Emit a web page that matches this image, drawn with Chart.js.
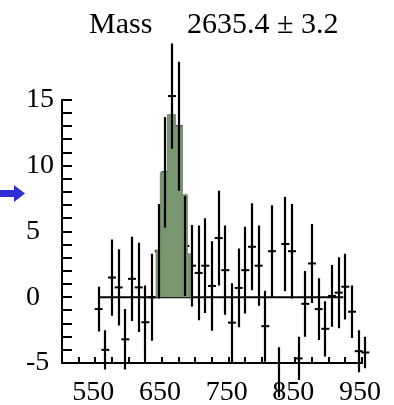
<!DOCTYPE html>
<html>
<head>
<meta charset="utf-8">
<script src="https://cdn.jsdelivr.net/npm/chart.js@4.4.1/dist/chart.umd.min.js"></script>
<style>
  html, body { margin: 0; padding: 0; background: #fff; }
  canvas { display: block; }
</style>
</head>
<body>
<canvas id="massChart" width="394" height="405"></canvas>
<script>
// histogram bins (MeV), background-subtracted counts and their errors
const binCenters = [555, 565, 575, 585, 595, 605, 615, 625, 635, 645,
  655, 665, 675, 685, 695, 705, 715, 725, 735, 745,
  755, 765, 775, 785, 795, 805, 815, 825, 835, 845,
  855, 865, 875, 885, 895, 905, 915, 925, 935, 945, 955];
const counts = [-0.9, -4.0, 1.5, 0.75, -3.2, 1.4, 0.75, -1.9, 0.0, 3.5,
  9.5, 15.3, 13.0, 3.9, 2.4, 1.85, 2.4, 0.86, 4.5, 2.06,
  -1.93, 0.71, 2.06, 3.84, 2.4, -2.2, 3.5, -5.7, 4.05, 3.5,
  -4.65, -0.5, 2.57, -0.9, -2.4, 0.1, 0.35, 0.8, -1.1, -4.1, -4.2];
const errors = [1.7, 1.5, 2.9, 2.9, 2.3, 3.2, 3.4, 2.8, 3.3, 3.6,
  4.2, 4.0, 4.9, 3.8, 3.1, 3.6, 3.6, 3.4, 3.6, 3.4,
  3.0, 3.0, 3.3, 3.3, 3.05, 2.7, 3.5, 1.9, 3.6, 3.6,
  1.65, 2.5, 3.0, 2.35, 2.1, 2.35, 2.7, 2.5, 2.0, 1.6, 1.2];
const binWidth = 10;

// flat background fit and the shaded signal
const fitX = [555, 922];
const fitY = [0, 0];
const signalEdges = [640, 647.5, 658, 670, 680.5, 688, 694];
const signalLevels = [3.6, 9.5, 13.9, 13.0, 7.8, 3.3, 3.3];

const xLabels = [550, 650, 750, 850, 950];
const yLabels = [-5, 0, 5, 10, 15];
const titleParts = ["Mass", "2635.4 \u00b1 3.2"];

const serif = "'Liberation Serif', 'Times New Roman', serif";

const errorBars = {
  id: "errorBars",
  afterDatasetsDraw(chart) {
    const { ctx, scales: { x, y } } = chart;
    ctx.save();
    ctx.strokeStyle = "#000";
    ctx.lineWidth = 2.2;
    ctx.beginPath();
    binCenters.forEach((c, i) => {
      const px = Math.round(x.getPixelForValue(c));
      ctx.moveTo(px, y.getPixelForValue(counts[i] + errors[i]));
      ctx.lineTo(px, y.getPixelForValue(counts[i] - errors[i]));
    });
    ctx.stroke();
    ctx.restore();
  },
};

const innerTicks = {
  id: "innerTicks",
  afterDraw(chart) {
    const { ctx, scales: { x, y } } = chart;
    ctx.save();
    ctx.strokeStyle = "#000";
    ctx.lineWidth = 2;
    ctx.beginPath();
    x.ticks.forEach((t) => {
      const px = Math.round(x.getPixelForValue(t.value));
      ctx.moveTo(px, y.bottom);
      ctx.lineTo(px, y.bottom - 6);
    });
    y.ticks.forEach((t) => {
      const py = Math.round(y.getPixelForValue(t.value));
      ctx.moveTo(x.left, py);
      ctx.lineTo(x.left + 10, py);
    });
    ctx.stroke();

    // x labels under their tick values
    ctx.fillStyle = "#000";
    ctx.font = "28px " + serif;
    ctx.textAlign = "center";
    ctx.textBaseline = "alphabetic";
    xLabels.forEach((v) => {
      ctx.fillText(String(v), x.getPixelForValue(v) - 2, 400);
    });
    ctx.restore();
  },
};

const decorations = {
  id: "decorations",
  afterDraw(chart) {
    const ctx = chart.ctx;
    ctx.save();
    ctx.fillStyle = "#000";
    ctx.font = "30px " + serif;
    ctx.textBaseline = "alphabetic";
    ctx.fillText(titleParts[0], 89, 33);
    ctx.fillText(titleParts[1], 187, 33);

    // blue arrow on the left margin
    ctx.fillStyle = "#2f2fd6";
    ctx.fillRect(0, 190, 15, 7);
    ctx.beginPath();
    ctx.moveTo(14, 185);
    ctx.lineTo(25, 193.5);
    ctx.lineTo(14, 202);
    ctx.closePath();
    ctx.fill();
    ctx.restore();
  },
};

new Chart(document.getElementById("massChart").getContext("2d"), {
  type: "line",
  data: {
    datasets: [
      {
        label: "signal",
        data: signalEdges.map((e, i) => ({ x: e, y: signalLevels[i] })),
        stepped: true,
        fill: "origin",
        backgroundColor: "rgb(122, 150, 112)",
        borderColor: "rgb(110, 140, 100)",
        borderWidth: 1,
        pointRadius: 0,
        clip: false,
      },
      {
        label: "fit",
        data: fitX.map((v, i) => ({ x: v, y: fitY[i] })),
        borderColor: "#000",
        borderWidth: 2,
        pointRadius: 0,
        fill: false,
        clip: false,
      },
      {
        type: "scatter",
        label: "data",
        data: binCenters.map((c, i) => ({ x: c, y: counts[i] })),
        pointStyle: "line",
        pointRadius: 4,
        pointBorderWidth: 2,
        borderColor: "#000",
        backgroundColor: "#000",
        showLine: false,
        clip: false,
      },
    ],
  },
  options: {
    responsive: false,
    animation: false,
    events: [],
    layout: { padding: { left: 26, right: 32, top: 100, bottom: 0 } },
    scales: {
      x: {
        type: "linear",
        min: 500,
        max: 950,
        afterFit: (scale) => { scale.height = 42; },
        grid: { display: false, drawTicks: false },
        border: { display: true, color: "#000", width: 2 },
        ticks: {
          stepSize: 25,
          autoSkip: false,
          maxRotation: 0,
          color: "#000",
          font: { family: serif, size: 28 },
          callback: () => "",
        },
      },
      y: {
        min: -5,
        max: 15,
        afterFit: (scale) => { scale.width = 36; },
        grid: { display: false, drawTicks: false },
        border: { display: true, color: "#000", width: 2 },
        ticks: {
          stepSize: 1,
          autoSkip: false,
          crossAlign: "far",
          color: "#000",
          font: { family: serif, size: 28 },
          callback: (v) => (yLabels.includes(v) ? String(v) : ""),
        },
      },
    },
    plugins: {
      legend: { display: false },
      tooltip: { enabled: false },
      title: { display: false },
    },
  },
  plugins: [errorBars, innerTicks, decorations],
});
</script>
</body>
</html>
